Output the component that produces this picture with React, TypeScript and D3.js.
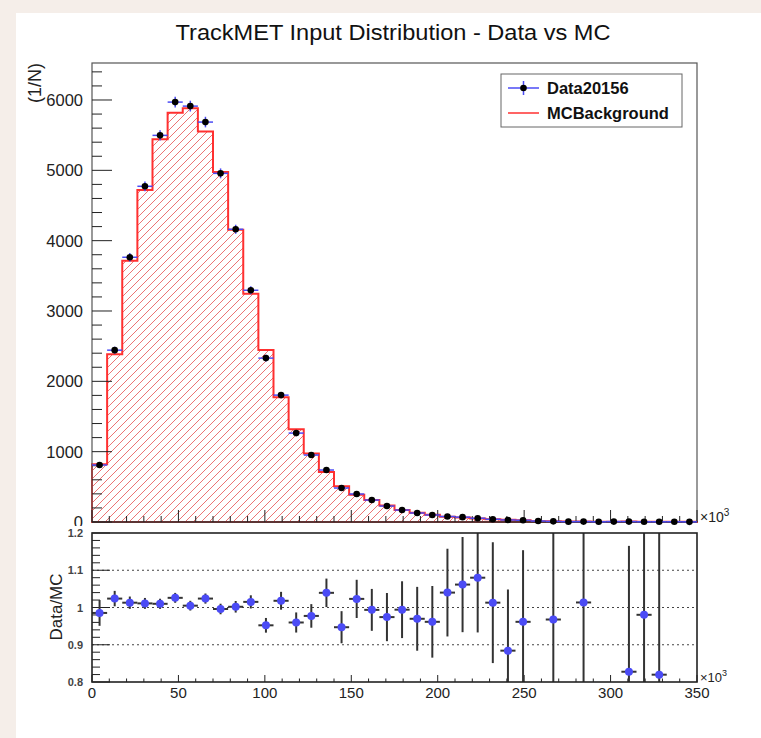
import React from "react";
import * as d3 from "d3";

// TrackMET histogram: 40 bins of 8.75k between 0 and 350k
const binEdgesMin = 0;
const binEdgesMax = 350;
const nBins = 40;

// Data counts per bin
const dataCounts = [
  810, 2443, 3764, 4773, 5497, 5970, 5913, 5686, 4957, 4162,
  3295, 2330, 1804, 1264, 952, 739, 483, 398, 312, 227,
  170, 128, 100, 78, 69, 54, 39, 29, 25, 14,
  9, 5, 6, 3, 6, 6, 3, 3, 4, 2,
];

// MC background prediction per bin
const mcCounts = [
  822, 2386, 3716, 4721, 5443, 5819, 5884, 5553, 4977, 4154,
  3246, 2447, 1772, 1317, 974, 711, 510, 389, 314, 233,
  171, 132, 104, 75, 65, 50, 38.5, 32.8, 26, 11,
  9.3, 6.5, 5.92, 4.2, 4.5, 7.25, 3.06, 3.66, 2.5, 3,
];

const topYTicks = [0, 1000, 2000, 3000, 4000, 5000, 6000];
const ratioYTicks = [0.8, 0.9, 1, 1.1, 1.2];
const ratioYLabels = ["0.8", "0.9", "1", "1.1", "1.2"];
const ratioGrid = [0.9, 1, 1.1];
const xTicks = [0, 50, 100, 150, 200, 250, 300, 350];

const titleText = "TrackMET Input Distribution - Data vs MC";
const legendLabels = ["Data20156", "MCBackground"];

const FONT = "'Liberation Sans', Arial, Helvetica, sans-serif";

export default function App() {
  const W = 761;
  const H = 738;
  const left = 92;
  const right = 697;
  const topY0 = 63;
  const topY1 = 522;
  const rY0 = 533;
  const rY1 = 682;

  const binW = (binEdgesMax - binEdgesMin) / nBins;
  const bins = d3.range(nBins).map((i) => ({
    lo: binEdgesMin + i * binW,
    hi: binEdgesMin + (i + 1) * binW,
    c: binEdgesMin + (i + 0.5) * binW,
    data: dataCounts[i],
    mc: mcCounts[i],
  }));

  const x = d3.scaleLinear().domain([binEdgesMin, binEdgesMax]).range([left, right]);
  const y = d3.scaleLinear().domain([0, 6526]).range([topY1, topY0]);
  const yr = d3.scaleLinear().domain([0.8, 1.2]).range([rY1, rY0]);

  // MC outline as a step path
  let mcPath = `M${x(bins[0].lo)},${y(0)}`;
  bins.forEach((b) => {
    mcPath += `V${y(b.mc)}H${x(b.hi)}`;
  });
  mcPath += `V${y(0)}Z`;

  // diagonal hatch strokes ("/"), clipped to the MC shape
  const hatchStep = 8;
  const hatchLines = d3.range(left - (topY1 - topY0), right + 1, hatchStep);

  const topMinor = d3.range(0, 6527, 200);
  const xMinor = d3.range(0, 351, 10);
  const rMinor = d3.range(0.8, 1.2001, 0.02);

  const ratios = bins
    .map((b) => {
      const r = b.data / b.mc;
      const err = r / Math.sqrt(b.data);
      return { ...b, r, err };
    })
    .filter((p) => p.r >= 0.8 && p.r <= 1.2);

  const clampR = (v: number) => Math.max(0.8, Math.min(1.2, v));

  const blue = "#4b4bf5";
  const red = "#ff3030";
  const axisCol = "#222";

  return (
    <svg
      width={W}
      height={H}
      style={{ position: "absolute", left: 0, top: 0 }}
      fontFamily={FONT}
    >
      <defs>
        <clipPath id="mcClip">
          <path d={mcPath} />
        </clipPath>
        <clipPath id="ratioClip">
          <rect x={left} y={rY0} width={right - left} height={rY1 - rY0} />
        </clipPath>
      </defs>
      <rect x={0} y={0} width={W} height={H} fill="#f5eee9" />
      <rect x={16} y={13} width={W - 16} height={H - 13} fill="#ffffff" />

      <text
        x={393}
        y={40}
        textAnchor="middle"
        fontSize={22.5}
        textLength={435}
        lengthAdjust="spacingAndGlyphs"
        fill="#111"
      >
        {titleText}
      </text>

      {/* ---------- upper pad ---------- */}
      <g clipPath="url(#mcClip)">
        {hatchLines.map((h, i) => (
          <line
            key={"h" + i}
            x1={h}
            y1={topY1}
            x2={h + (topY1 - topY0)}
            y2={topY0}
            stroke="#ec7474"
            strokeWidth={1}
          />
        ))}
      </g>
      <path d={mcPath} fill="none" stroke={red} strokeWidth={2} />

      {/* frame */}
      <rect
        x={left}
        y={topY0}
        width={right - left}
        height={topY1 - topY0}
        fill="none"
        stroke="#555"
        strokeWidth={1.2}
      />

      {/* y axis ticks */}
      {topMinor.map((v) => (
        <line
          key={"ym" + v}
          x1={left}
          x2={left + (v % 1000 === 0 ? 20 : 10)}
          y1={y(v)}
          y2={y(v)}
          stroke={axisCol}
          strokeWidth={1}
        />
      ))}
      {topYTicks.map((v) => (
        <text
          key={"yl" + v}
          x={83}
          y={y(v) + 6}
          textAnchor="end"
          fontSize={16.5}
          fill="#222"
        >
          {v}
        </text>
      ))}
      <text
        transform={`translate(41,63) rotate(-90)`}
        textAnchor="end"
        fontSize={18}
        fill="#222"
      >
        (1/N)
      </text>

      {/* x axis ticks */}
      <line x1={left} x2={right} y1={topY1} y2={topY1} stroke={axisCol} strokeWidth={1.2} />
      {xMinor.map((v) => (
        <line
          key={"xm" + v}
          x1={x(v)}
          x2={x(v)}
          y1={topY1}
          y2={topY1 - (v % 50 === 0 ? 12 : 6)}
          stroke={axisCol}
          strokeWidth={1}
        />
      ))}
      <text x={700} y={522} fontSize={14} fill="#222">
        ×10<tspan dy={-6} fontSize={10}>3</tspan>
      </text>

      {/* data points */}
      {bins.map((b, i) => (
        <g key={"d" + i}>
          <line
            x1={x(b.lo)}
            x2={x(b.hi)}
            y1={y(b.data)}
            y2={y(b.data)}
            stroke={blue}
            strokeWidth={1.5}
          />
          <line
            x1={x(b.c)}
            x2={x(b.c)}
            y1={y(b.data - Math.sqrt(b.data))}
            y2={y(b.data + Math.sqrt(b.data))}
            stroke={blue}
            strokeWidth={1.5}
          />
          <circle cx={x(b.c)} cy={y(b.data)} r={3.3} fill="#000" />
        </g>
      ))}

      {/* legend */}
      <rect x={501} y={74} width={181} height={53} fill="#fff" stroke="#666" strokeWidth={1} />
      <line x1={508} x2={539} y1={88} y2={88} stroke={blue} strokeWidth={1.5} />
      <line x1={523.5} x2={523.5} y1={81} y2={95} stroke={blue} strokeWidth={1.5} />
      <circle cx={523.5} cy={88} r={3.3} fill="#000" />
      <text x={547} y={94} fontSize={16.5} fontWeight="bold" fill="#111">
        {legendLabels[0]}
      </text>
      <line x1={508} x2={539} y1={113} y2={113} stroke={red} strokeWidth={1.5} />
      <text x={547} y={119} fontSize={16.5} fontWeight="bold" fill="#111">
        {legendLabels[1]}
      </text>

      {/* ---------- ratio pad ---------- */}
      <rect x={0} y={526} width={W} height={H - 526} fill="#fff" />
      <rect x={0} y={526} width={16} height={H - 526} fill="#f5eee9" />

      {ratioGrid.map((v) => (
        <line
          key={"g" + v}
          x1={left}
          x2={right}
          y1={yr(v)}
          y2={yr(v)}
          stroke="#444"
          strokeWidth={1}
          strokeDasharray="2,3"
        />
      ))}

      {rMinor.map((v, i) => (
        <line
          key={"rm" + i}
          x1={left}
          x2={left + (i % 5 === 0 ? 18 : 8)}
          y1={yr(v)}
          y2={yr(v)}
          stroke={axisCol}
          strokeWidth={1}
        />
      ))}
      {xMinor.map((v) => (
        <line
          key={"rxm" + v}
          x1={x(v)}
          x2={x(v)}
          y1={rY1}
          y2={rY1 - (v % 50 === 0 ? 7 : 3.5)}
          stroke={axisCol}
          strokeWidth={1}
        />
      ))}

      <g clipPath="url(#ratioClip)">
        {ratios.map((p, i) => (
          <g key={"r" + i}>
            <line
              x1={x(p.lo)}
              x2={x(p.hi)}
              y1={yr(p.r)}
              y2={yr(p.r)}
              stroke="#333"
              strokeWidth={2}
            />
            <line
              x1={x(p.c)}
              x2={x(p.c)}
              y1={yr(clampR(p.r - p.err))}
              y2={yr(clampR(p.r + p.err))}
              stroke="#333"
              strokeWidth={2}
            />
            <circle cx={x(p.c)} cy={yr(p.r)} r={4} fill={blue} />
          </g>
        ))}
      </g>

      <rect
        x={left}
        y={rY0}
        width={right - left}
        height={rY1 - rY0}
        fill="none"
        stroke="#222"
        strokeWidth={1.6}
      />

      {ratioYTicks.map((v, i) => (
        <text
          key={"ryl" + i}
          x={83}
          y={yr(v) + 4}
          textAnchor="end"
          fontSize={11}
          fontWeight="bold"
          fill="#444"
        >
          {ratioYLabels[i]}
        </text>
      ))}
      <text
        transform={`translate(62,607) rotate(-90)`}
        textAnchor="middle"
        fontSize={17}
        fill="#222"
      >
        Data/MC
      </text>
      {xTicks.map((v) => (
        <text
          key={"xl" + v}
          x={x(v)}
          y={698}
          textAnchor="middle"
          fontSize={15}
          fill="#222"
        >
          {v}
        </text>
      ))}
      <text x={700} y={682} fontSize={13} fill="#222">
        ×10<tspan dy={-6} fontSize={9}>3</tspan>
      </text>
    </svg>
  );
}
